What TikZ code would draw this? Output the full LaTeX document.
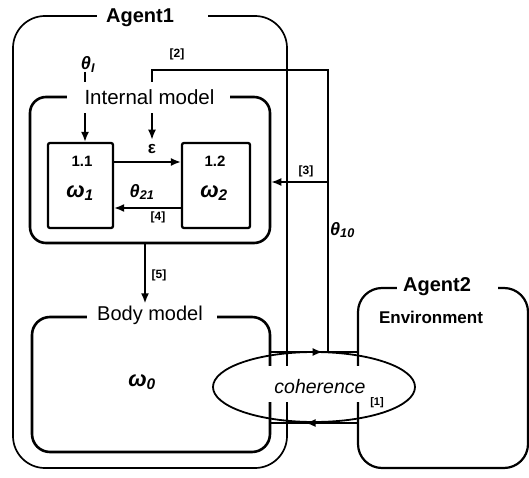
\documentclass[tikz,border=0pt]{standalone}
\usepackage{fontspec}
\setmainfont{Liberation Sans}
\usetikzlibrary{arrows.meta,decorations.markings,shapes.geometric}
\newcommand\myfs[1]{\fontsize{#1}{#1}\selectfont}
\begin{document}
\begin{tikzpicture}[x=1pt,y=-1pt,
  box/.style={draw, line width=2.6pt, rounded corners=#1, inner sep=0pt},
  box/.default=2pt,
  conn/.style={line width=1.6pt},
  tip/.style={-{Latex[length=10pt,width=8pt]}},
  arr/.style={conn, tip},
  midtip/.style={postaction={decorate}, decoration={markings, mark=at position 0.6 with {\arrow{Latex[length=10pt,width=8pt]}}}},
  ttl/.style={font=\myfs{20}, inner sep=0pt, anchor=base},
  btl/.style={font=\bfseries\myfs{20}, inner sep=0pt, anchor=base},
  tag/.style={font=\bfseries\myfs{12}, inner sep=0pt, anchor=base},
  sym/.style={font=\bfseries\itshape\myfs{20}, inner sep=0pt, anchor=base},
]
\useasboundingbox (0,0) rectangle (529,478);

% boxes
\node[box=32pt, line width=1.7pt, minimum width=274pt, minimum height=452pt] (agent1) at (150,242) {};
\node[box=16pt, minimum width=240pt, minimum height=146pt] (internal) at (150,170) {};
\node[box=2pt, line width=2.3pt, minimum width=65pt, minimum height=85pt] (b11) at (80.5,185.5) {};
\node[box=2pt, line width=2.3pt, minimum width=68pt, minimum height=85pt] (b12) at (216,185.5) {};
\node[box=18pt, minimum width=238pt, minimum height=135pt] (body) at (151,384.5) {};
\node[box=24pt, line width=2.2pt, minimum width=170pt, minimum height=180pt] (agent2) at (443,378) {};

% coordinates
\coordinate (yTop) at (0,352);
\coordinate (yBot) at (0,423);
\coordinate (j2) at (328,352);
\coordinate (c2) at (328,70);
\coordinate (j3) at (328,182);
\coordinate (a1) at (85,72);

% epsilon node
\node[font=\bfseries\myfs{17}, inner sep=0pt, anchor=base] (eps) at (152,154) {ε};

% connectors
\draw[arr] (j2) -- (c2) -| ([yshift=5pt]eps.north);
\draw[arr] (j3) -- (j3 -| internal.east);
\draw[arr] (a1) -- (a1 |- b11.north);
\draw[arr] ([yshift=23.5pt]b11.east) -- ([yshift=23.5pt]b12.west);
\draw[arr] ([yshift=-22.5pt]b12.west) -- ([yshift=-22.5pt]b11.east);
\draw[arr] ([xshift=-5pt]internal.south) -- ++(0,59);
\draw[conn, midtip] (body.east |- yTop) -- (agent2.west |- yTop);
\draw[conn, midtip] (agent2.west |- yBot) -- (body.east |- yBot);

% title gaps
\fill[white] (97,8) rectangle (208,24);
\fill[white] (67,82) rectangle (230,113);
\fill[white] (87,308) rectangle (217,326);
\fill[white] (397,280) rectangle (498,296);

% coherence ellipse
\fill[white] (262,366) rectangle (366,402);
\node[draw, ellipse, line width=1.8pt, minimum width=202pt, minimum height=70pt, inner sep=0pt] (coh) at (314,387) {};

% texts
\node[btl] (t1) at (140,23) {Agent1};
\node[ttl, font=\myfs{20.5}] (t2) at (149.5,105) {Internal model};
\node[ttl] (t3) at (150,320) {Body model};
\node[btl] (t4) at (437,291) {Agent2};
\node[font=\bfseries\myfs{17}, inner sep=0pt, anchor=base] (t5) at (431,323) {Environment};
\node[font=\itshape\myfs{19.5}, inner sep=0pt, anchor=base] (t6) at (320,393) {coherence};
\node[tag, font=\bfseries\myfs{11}] (t7) at (377,405) {[1]};
\node[font=\bfseries\myfs{15}, inner sep=0pt, anchor=base] (t8) at (82,167) {1.1};
\node[font=\bfseries\myfs{15}, inner sep=0pt, anchor=base] (t9) at (215,167) {1.2};
\node[sym, font=\bfseries\itshape\myfs{22}] (w1) at (80,197) {ω\textsubscript{1}};
\node[sym, font=\bfseries\itshape\myfs{22}] (w2) at (214,197) {ω\textsubscript{2}};
\node[sym, font=\bfseries\itshape\myfs{22}] (w0) at (142,386) {ω\textsubscript{0}};
\node[sym, font=\bfseries\itshape\myfs{18}] (th21) at (142,197) {θ\textsubscript{21}};
\node[sym, font=\bfseries\itshape\myfs{18}] (thI) at (88,70) {θ\textsubscript{I}};
\node[sym, font=\bfseries\itshape\myfs{18}, anchor=base west] (th10) at (330,235) {θ\textsubscript{10}};
\node[tag] (l2) at (177,58) {[2]};
\node[tag] (l3) at (306,175) {[3]};
\node[tag] (l4) at (158,220) {[4]};
\node[tag] (l5) at (159,278) {[5]};
\end{tikzpicture}
\end{document}
